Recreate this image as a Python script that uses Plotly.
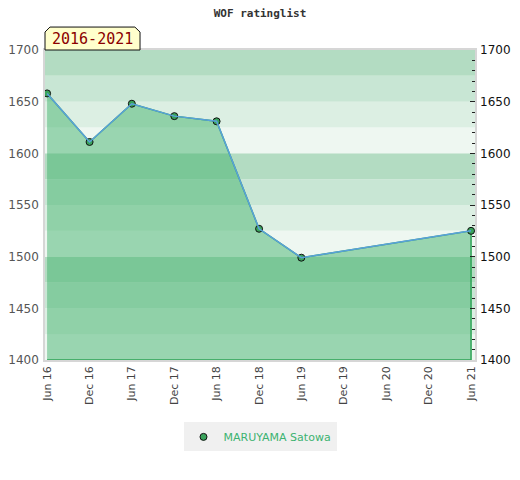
import plotly.graph_objects as go

# rating history
dates = ["2016-06-01", "2016-12-01", "2017-06-01", "2017-12-01",
         "2018-06-01", "2018-12-01", "2019-06-01", "2021-06-01"]
ratings = [1658, 1611, 1648, 1636, 1631, 1527, 1499, 1525]
player = "MARUYAMA Satowa"
period = "2016-2021"

y_min, y_max = 1400, 1700
band_step = 25
band_colors = ["#eef7f1", "#dcefe3", "#c8e6d4", "#b3dcc2"]  # bottom -> top inside each 100

fig = go.Figure()

# background stripes
for i, lo in enumerate(range(y_min, y_max, band_step)):
    fig.add_shape(type="rect", xref="paper", yref="y", x0=0, x1=1,
                  y0=lo, y1=lo + band_step, fillcolor=band_colors[i % 4],
                  line_width=0, layer="below")

# filled area down to the axis floor (green edges)
fig.add_trace(go.Scatter(
    x=dates + [dates[-1], dates[0]],
    y=ratings + [y_min, y_min],
    fill="toself", fillcolor="rgba(60,175,105,0.48)",
    mode="lines", line=dict(color="#2ea356", width=1.5),
    hoverinfo="skip", showlegend=False))

# rating line
fig.add_trace(go.Scatter(x=dates, y=ratings, mode="lines",
                         line=dict(color="#5aa0dc", width=1.5),
                         showlegend=False, yaxis="y2"))

fig.add_trace(go.Scatter(x=dates, y=ratings, mode="markers", name=player,
                         marker=dict(color="#3aa35c", size=7,
                                     line=dict(color="#111", width=1))))

# period label box
fig.add_shape(type="path", xref="paper", yref="paper",
              path="M 0 1 L 0 1.058 L 0.0116 1.074 L 0.209 1.074 L 0.221 1.058 L 0.221 1 Z",
              fillcolor="#ffffcc", line=dict(color="#111", width=1))
fig.add_annotation(x=0.1105, y=1.037, xref="paper", yref="paper", text=period,
                   xanchor="center", yanchor="middle", showarrow=False,
                   font=dict(family="DejaVu Sans Mono", size=15, color="#8b0000"))

# the page puts the figure 8px in from the top-left, so margins are shifted by that
fig.update_layout(
    width=520, height=480,
    margin=dict(l=37, r=53, t=42, b=128),
    paper_bgcolor="white", plot_bgcolor="white",
    title=dict(text="<b>WOF ratinglist</b>", x=(252 / 520), y=1 - 5 / 480,
               xanchor="center", yanchor="middle",
               font=dict(family="DejaVu Sans Mono", size=11, color="#333")),
    xaxis=dict(type="date", range=["2016-05-23", "2021-06-18"], automargin=False,
               tick0="2016-06-01", dtick="M6", tickformat="%b %y", tickangle=-90,
               showgrid=False, zeroline=False, showline=True, mirror=True,
               linecolor="#d6d6d6", linewidth=1.5,
               tickfont=dict(family="DejaVu Sans", size=11, color="#444")),
    yaxis=dict(range=[y_min, y_max], dtick=50, showgrid=False, zeroline=False, automargin=False,
               showline=True, mirror=True, linecolor="#d6d6d6", linewidth=1.5,
               ticklabelstandoff=2,
               tickfont=dict(family="DejaVu Sans", size=12, color="#555")),
    yaxis2=dict(range=[y_min, y_max], dtick=50, overlaying="y", side="right", automargin=False,
                showgrid=False, zeroline=False, ticks="inside", ticklen=5,
                ticklabelstandoff=4,
                tickcolor="#222", minor=dict(dtick=10, ticks="inside", ticklen=3, tickcolor="#222"),
                tickfont=dict(family="DejaVu Sans", size=12, color="#111")),
    legend=dict(orientation="h", x=0.5, xanchor="center", y=-0.248, yanchor="middle",
                bgcolor="#f0f0f0", font=dict(family="DejaVu Sans", size=11, color="#3cb371")),
)

fig.write_html("out.html")
